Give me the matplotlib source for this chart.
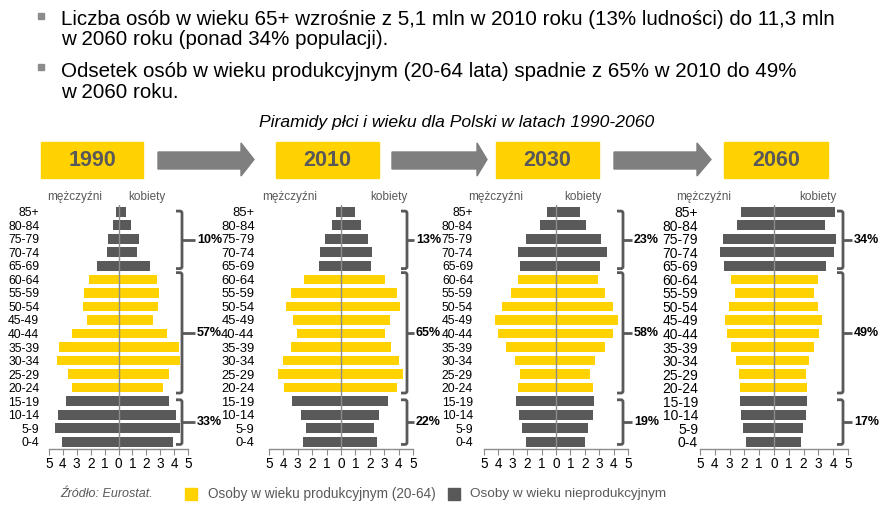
import matplotlib
matplotlib.use("Agg")
import matplotlib.pyplot as plt
from matplotlib.patches import Rectangle, Polygon, PathPatch
from matplotlib.path import Path
from matplotlib.transforms import Affine2D

plt.rcParams['font.family'] = ['Liberation Sans', 'DejaVu Sans']

# ---------------- data ----------------
ages = ["85+", "80-84", "75-79", "70-74", "65-69", "60-64", "55-59", "50-54",
        "45-49", "40-44", "35-39", "30-34", "25-29", "20-24", "15-19", "10-14",
        "5-9", "0-4"]
years = ["1990", "2010", "2030", "2060"]

males_1990 = [0.17, 0.40, 0.72, 0.82, 1.54, 2.14, 2.48, 2.55, 2.28, 3.34, 4.28, 4.45,
              3.65, 3.34, 3.77, 4.33, 4.60, 4.04]
females_1990 = [0.53, 0.91, 1.44, 1.32, 2.24, 2.76, 2.88, 2.81, 2.50, 3.49, 4.33, 4.40,
                3.60, 3.22, 3.65, 4.16, 4.40, 3.89]
males_2010 = [0.32, 0.65, 1.11, 1.48, 1.55, 2.57, 3.50, 3.84, 3.36, 3.08, 3.50, 4.03,
              4.40, 3.98, 3.38, 2.75, 2.43, 2.62]
females_2010 = [0.95, 1.39, 1.90, 2.15, 2.10, 3.08, 3.91, 4.12, 3.43, 3.08, 3.47, 4.00,
                4.28, 3.87, 3.24, 2.62, 2.27, 2.48]
males_2030 = [0.63, 1.14, 2.05, 2.67, 2.53, 2.63, 3.12, 3.77, 4.23, 4.02, 3.49, 2.84,
              2.49, 2.67, 2.79, 2.60, 2.35, 2.05]
females_2030 = [1.65, 2.05, 3.14, 3.53, 3.07, 2.93, 3.37, 3.95, 4.33, 3.95, 3.37, 2.74,
                2.35, 2.60, 2.67, 2.56, 2.23, 1.98]
males_2060 = [2.25, 2.50, 3.45, 3.63, 3.38, 2.88, 2.64, 3.02, 3.33, 3.20, 2.88, 2.59,
              2.39, 2.32, 2.27, 2.21, 2.09, 1.89]
females_2060 = [4.10, 3.42, 4.17, 4.03, 3.54, 3.00, 2.68, 3.00, 3.22, 3.06, 2.68, 2.36,
                2.18, 2.25, 2.20, 2.14, 1.96, 1.82]

share_65plus = ["10%", "13%", "23%", "34%"]
share_20_64 = ["57%", "65%", "58%", "49%"]
share_0_19 = ["33%", "22%", "19%", "17%"]

x_ticks = [-5, -4, -3, -2, -1, 0, 1, 2, 3, 4, 5]

bullet_lines = [
    ["Liczba osób w wieku 65+ wzrośnie z 5,1 mln w 2010 roku (13% ludności) do 11,3 mln",
     "w 2060 roku (ponad 34% populacji)."],
    ["Odsetek osób w wieku produkcyjnym (20-64 lata) spadnie z 65% w 2010 do 49%",
     "w 2060 roku."],
]
title = "Piramidy płci i wieku dla Polski w latach 1990-2060"
legend_labels = ["Osoby w wieku produkcyjnym (20-64)", "Osoby w wieku nieprodukcyjnym"]
source = "Źródło: Eurostat."

males = [males_1990, males_2010, males_2030, males_2060]
females = [females_1990, females_2010, females_2030, females_2060]

# ---------------- style / layout ----------------
W, H = 884, 508
YELLOW = "#FFD200"
DGRAY = "#595959"
AGRAY = "#7F7F7F"
LGRAY = "#8C8C8C"

fig = plt.figure(figsize=(W / 100, H / 100), dpi=100)
px = Affine2D().scale(1 / W, -1 / H).translate(0, 1) + fig.transFigure

# top bullets
bullet_y = [(13, [25, 45]), (64, [77, 98])]
for (by, bases), lines in zip(bullet_y, bullet_lines):
    fig.patches.append(Rectangle((38, by), 6, 6, transform=px, color="#8C8C8C"))
    for b, t in zip(bases, lines):
        fig.text(61 / W, 1 - b / H, t, fontsize=14.8, va="baseline", ha="left",
                 color="black")

fig.text(457 / W, 1 - 122 / H, title, fontsize=12.6, style="italic", ha="center",
         va="center", color="black")

# year boxes and arrows
box_x = [(41, 143), (276, 379), (496, 599), (724, 828)]
for (x0, x1), yr in zip(box_x, years):
    fig.patches.append(Rectangle((x0, 142), x1 - x0, 36, transform=px, color=YELLOW))
    fig.text(((x0 + x1) / 2) / W, 1 - 160.5 / H, yr, fontsize=15.5, fontweight="bold",
             color=DGRAY, ha="center", va="center")
arrows = [(158, 241, 254), (392, 477, 487), (614, 697, 711)]
for a0, ah, a1 in arrows:
    pts = [(a0, 152), (ah, 152), (ah, 143), (a1, 159.5), (ah, 176), (ah, 169), (a0, 169)]
    fig.patches.append(Polygon(pts, closed=True, transform=px, color=AGRAY))

# panels
panel_x = [(49, 188), (269, 413), (484, 628), (700, 848)]
ytop, ybot = 205, 448.5
label_pad = [7.0, 10.4, 7.9, 1.4]
label_size = [8.8, 9.4, 8.8, 10]
men_x = [75, 290, 496, 704]
women_x = [147, 389, 583, 818]
brace_x = [182, 407, 623, 843]
pct_x = [197, 416, 634, 854]
rows = list(range(len(ages)))
colors = [DGRAY] * 5 + [YELLOW] * 9 + [DGRAY] * 4
rowh = (ybot - ytop) / len(ages)

def row_px(r):
    return ytop + (r + 0.5) * rowh

def brace(xv, xl, r0, r1, label):
    t, b = row_px(r0), row_px(r1)
    m = (t + b) / 2
    verts = [(xv - 6, t), (xv - 2, t), (xv, t), (xv, t + 2), (xv, b - 2), (xv, b),
             (xv - 2, b), (xv - 6, b)]
    codes = [Path.MOVETO, Path.LINETO, Path.CURVE3, Path.CURVE3, Path.LINETO,
             Path.CURVE3, Path.CURVE3, Path.LINETO]
    fig.patches.append(PathPatch(Path(verts, codes), transform=px, fill=False,
                                 edgecolor=DGRAY, lw=2.0, capstyle="butt"))
    fig.lines.append(plt.Line2D([xv, xl - 2], [m, m], transform=px, color=DGRAY,
                                lw=2.0, solid_capstyle="butt"))
    fig.text(xl / W, 1 - m / H, label, fontsize=9.0, fontweight="bold",
             ha="left", va="center", color="black")

for i in range(4):
    x0, x1 = panel_x[i]
    ax = fig.add_axes([x0 / W, 1 - ybot / H, (x1 - x0) / W, (ybot - ytop) / H])
    ax.barh(rows, [-v for v in males[i]], height=0.72, color=colors, edgecolor="none")
    ax.barh(rows, females[i], height=0.72, color=colors, edgecolor="none")
    ax.set_xlim(-5, 5)
    ax.set_ylim(len(ages) - 0.5, -0.5)
    ax.axvline(0, color=LGRAY, lw=1.0, zorder=3)
    for s in ["top", "right", "left"]:
        ax.spines[s].set_visible(False)
    ax.spines["bottom"].set_color(LGRAY)
    ax.spines["bottom"].set_linewidth(1.0)
    ax.set_xticks(x_ticks)
    ax.set_xticklabels([str(abs(v)) for v in x_ticks])
    ax.tick_params(axis="x", length=4, color=LGRAY, labelsize=9.8, pad=2,
                   labelcolor="black")
    ax.set_yticks(rows)
    ax.set_yticklabels(ages)
    ax.tick_params(axis="y", length=0, pad=label_pad[i], labelsize=label_size[i],
                   labelcolor="black")
    ax.patch.set_visible(False)

    fig.text(men_x[i] / W, 1 - 197 / H, "mężczyźni", fontsize=8.5, color=DGRAY,
             ha="center", va="center")
    fig.text(women_x[i] / W, 1 - 197 / H, "kobiety", fontsize=8.5, color=DGRAY,
             ha="center", va="center")

    brace(brace_x[i], pct_x[i], -0.05, 4.2, share_65plus[i])
    brace(brace_x[i], pct_x[i], 4.5, 13.4, share_20_64[i])
    brace(brace_x[i], pct_x[i], 13.9, 17.2, share_0_19[i])

# legend / source
fig.text(60 / W, 1 - 494 / H, source, fontsize=9, style="italic", color=DGRAY,
         ha="left", va="center")
fig.patches.append(Rectangle((185, 488), 12, 12, transform=px, color=YELLOW))
fig.text(208 / W, 1 - 494 / H, legend_labels[0], fontsize=9.8, color=DGRAY,
         ha="left", va="center")
fig.patches.append(Rectangle((448, 488), 12, 12, transform=px, color=DGRAY))
fig.text(470 / W, 1 - 494 / H, legend_labels[1], fontsize=9.7, color=DGRAY,
         ha="left", va="center")

fig.savefig("out.png", dpi=100)
